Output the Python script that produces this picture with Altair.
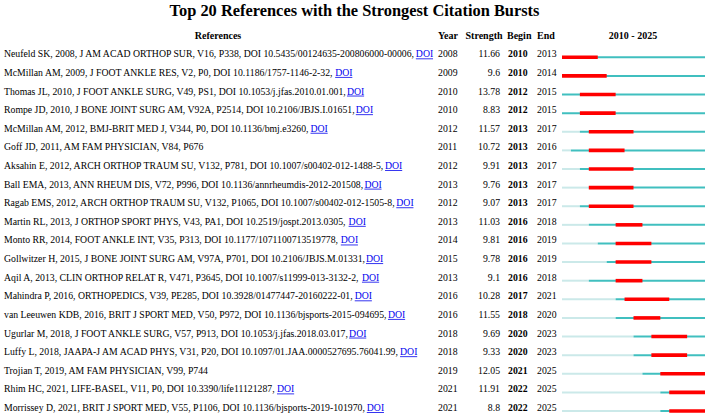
import altair as alt
import pandas as pd

# ---------------- data ----------------
title = "Top 20 References with the Strongest Citation Bursts"
refs = [
    "Neufeld SK, 2008, J AM ACAD ORTHOP SUR, V16, P338, DOI 10.5435/00124635-200806000-00006",
    "McMillan AM, 2009, J FOOT ANKLE RES, V2, P0, DOI 10.1186/1757-1146-2-32",
    "Thomas JL, 2010, J FOOT ANKLE SURG, V49, PS1, DOI 10.1053/j.jfas.2010.01.001",
    "Rompe JD, 2010, J BONE JOINT SURG AM, V92A, P2514, DOI 10.2106/JBJS.I.01651",
    "McMillan AM, 2012, BMJ-BRIT MED J, V344, P0, DOI 10.1136/bmj.e3260",
    "Goff JD, 2011, AM FAM PHYSICIAN, V84, P676",
    "Aksahin E, 2012, ARCH ORTHOP TRAUM SU, V132, P781, DOI 10.1007/s00402-012-1488-5",
    "Ball EMA, 2013, ANN RHEUM DIS, V72, P996, DOI 10.1136/annrheumdis-2012-201508",
    "Ragab EMS, 2012, ARCH ORTHOP TRAUM SU, V132, P1065, DOI 10.1007/s00402-012-1505-8",
    "Martin RL, 2013, J ORTHOP SPORT PHYS, V43, PA1, DOI 10.2519/jospt.2013.0305",
    "Monto RR, 2014, FOOT ANKLE INT, V35, P313, DOI 10.1177/1071100713519778",
    "Gollwitzer H, 2015, J BONE JOINT SURG AM, V97A, P701, DOI 10.2106/JBJS.M.01331",
    "Aqil A, 2013, CLIN ORTHOP RELAT R, V471, P3645, DOI 10.1007/s11999-013-3132-2",
    "Mahindra P, 2016, ORTHOPEDICS, V39, PE285, DOI 10.3928/01477447-20160222-01",
    "van Leeuwen KDB, 2016, BRIT J SPORT MED, V50, P972, DOI 10.1136/bjsports-2015-094695",
    "Ugurlar M, 2018, J FOOT ANKLE SURG, V57, P913, DOI 10.1053/j.jfas.2018.03.017",
    "Luffy L, 2018, JAAPA-J AM ACAD PHYS, V31, P20, DOI 10.1097/01.JAA.0000527695.76041.99",
    "Trojian T, 2019, AM FAM PHYSICIAN, V99, P744",
    "Rhim HC, 2021, LIFE-BASEL, V11, P0, DOI 10.3390/life11121287",
    "Morrissey D, 2021, BRIT J SPORT MED, V55, P1106, DOI 10.1136/bjsports-2019-101970",
]
has_doi = [True, True, True, True, True, False, True, True, True, True,
           True, True, True, True, True, True, True, False, True, True]
years = [2008, 2009, 2010, 2010, 2012, 2011, 2012, 2013, 2012, 2013,
         2014, 2015, 2013, 2016, 2016, 2018, 2018, 2019, 2021, 2021]
strengths = [11.66, 9.6, 13.78, 8.83, 11.57, 10.72, 9.91, 9.76, 9.07, 11.03,
             9.81, 9.78, 9.1, 10.28, 11.55, 9.69, 9.33, 12.05, 11.91, 8.8]
begins = [2010, 2010, 2012, 2012, 2013, 2013, 2013, 2013, 2013, 2016,
          2016, 2016, 2016, 2017, 2018, 2020, 2020, 2021, 2022, 2022]
ends = [2013, 2014, 2015, 2015, 2017, 2016, 2017, 2017, 2017, 2018,
        2019, 2019, 2018, 2021, 2020, 2023, 2023, 2025, 2025, 2025]
span_start, span_end = 2010, 2025
headers = ["References", "Year", "Strength", "Begin", "End",
           f"{span_start} - {span_end}"]

# ---------------- style ----------------
FONT = "Liberation Serif"
FS = 9.75
HFS = 10
TOP = 22
LEFT = 4
GAP = 3.8
RED = "#FF0000"
TEAL = "#40BFBF"
LIGHT = "#CBE9E9"
BLUE = "#0000EE"
KERN = 0.99  # rendered text is slightly tighter than raw advance widths

# Times (Liberation Serif) advance widths, per 1000 em
TW = dict(zip("ABCDEFGHIJKLMNOPQRSTUVWXYZ",
              [722, 667, 667, 722, 611, 556, 722, 722, 333, 389, 722, 611, 889,
               722, 722, 556, 722, 667, 556, 611, 722, 722, 944, 722, 722, 611]))
TW.update(zip("abcdefghijklmnopqrstuvwxyz",
              [444, 500, 444, 500, 444, 333, 500, 500, 278, 278, 500, 278, 778,
               500, 500, 500, 500, 333, 389, 278, 500, 500, 722, 500, 500, 444]))
TW.update({d: 500 for d in "0123456789"})
TW.update({" ": 250, ",": 250, ".": 250, "/": 278, "-": 333})


def text_width(s, size):
    return KERN * sum(TW.get(c, 500) for c in s) * size / 1000.0


n = len(refs)
rows = pd.DataFrame({
    "row": list(range(n)),
    "ref": [r + ("," if d else "") for r, d in zip(refs, has_doi)],
    "year": [str(y) for y in years],
    "strength": [str(s) for s in strengths],
    "begin": [str(b) for b in begins],
    "end": [str(e) for e in ends],
})
doi_rows = pd.DataFrame({
    "row": [i for i in range(n) if has_doi[i]],
    "doi_x": [LEFT + text_width(refs[i] + ",", FS) + GAP for i in range(n) if has_doi[i]],
})
doi_rows["doi_x2"] = doi_rows["doi_x"] + text_width("DOI", FS)

segs = []
for i in range(n):
    if years[i] > span_start:
        segs.append({"row": i, "start": span_start, "stop": years[i], "kind": "before"})
    segs.append({"row": i, "start": max(years[i], span_start), "stop": span_end + 1, "kind": "active"})
segs = pd.DataFrame(segs)
bursts = pd.DataFrame({"row": list(range(n)), "start": begins,
                       "stop": [e + 1 for e in ends]})

header_df = pd.DataFrame({"row": [-1]})

# ---------------- encodings ----------------
Y = alt.Y("row:Q", scale=alt.Scale(domain=[0, n - 1], range=[57.3 - TOP, 411 - TOP]),
          axis=None)
XB = alt.X("start:Q", scale=alt.Scale(domain=[span_start, span_end + 1], range=[562, 705]),
           axis=None)

base_txt = dict(font=FONT, fontSize=FS, baseline="alphabetic", color="black")


def col_text(field, x, align="left", bold=False):
    return alt.Chart(rows).mark_text(
        align=align, fontWeight="bold" if bold else "normal", **base_txt
    ).encode(x=alt.value(x), y=Y, text=f"{field}:N")


def head_text(label, x, align="left"):
    return alt.Chart(header_df).mark_text(
        align=align, font=FONT, fontSize=HFS, fontWeight="bold",
        baseline="alphabetic", color="black"
    ).encode(x=alt.value(x), y=Y, text=alt.value(label))


seg_layer = alt.Chart(segs).mark_rule(strokeWidth=2).encode(
    x=XB, x2="stop:Q", y=Y,
    color=alt.Color("kind:N", scale=alt.Scale(domain=["before", "active"],
                                              range=[LIGHT, TEAL]), legend=None),
)
burst_layer = alt.Chart(bursts).mark_rule(strokeWidth=3.6, color=RED).encode(
    x=XB, x2="stop:Q", y=Y)

ref_layer = col_text("ref", LEFT)
doi_layer = alt.Chart(doi_rows).mark_text(
    align="left", font=FONT, fontSize=FS, baseline="alphabetic", color=BLUE
).encode(x=alt.X("doi_x:Q", scale=None), y=Y, text=alt.value("DOI"))
underline = alt.Chart(doi_rows).mark_rule(color=BLUE, strokeWidth=0.8, yOffset=1.5).encode(
    x=alt.X("doi_x:Q", scale=None), x2="doi_x2:Q", y=Y)

layers = [
    seg_layer, burst_layer,
    ref_layer, doi_layer, underline,
    col_text("year", 438),
    col_text("strength", 500, align="right"),
    col_text("begin", 508, bold=True),
    col_text("end", 537),
    head_text(headers[0], 218, "center"),
    head_text(headers[1], 438),
    head_text(headers[2], 484, "center"),
    head_text(headers[3], 507),
    head_text(headers[4], 537),
    head_text(headers[5], 633, "center"),
]

chart = alt.layer(*layers).resolve_scale(x="independent").properties(
    width=709,
    height=414 - TOP,
    padding={"top": TOP, "left": 0, "right": 0, "bottom": 0},
    autosize=alt.AutoSizeParams(type="none"),
    title=alt.TitleParams(title, font=FONT, fontSize=16.4, fontWeight="bold",
                          anchor="middle", offset=3, color="black"),
).configure_view(stroke=None)

chart.save("out.html", embed_options={"renderer": "svg", "actions": False})
